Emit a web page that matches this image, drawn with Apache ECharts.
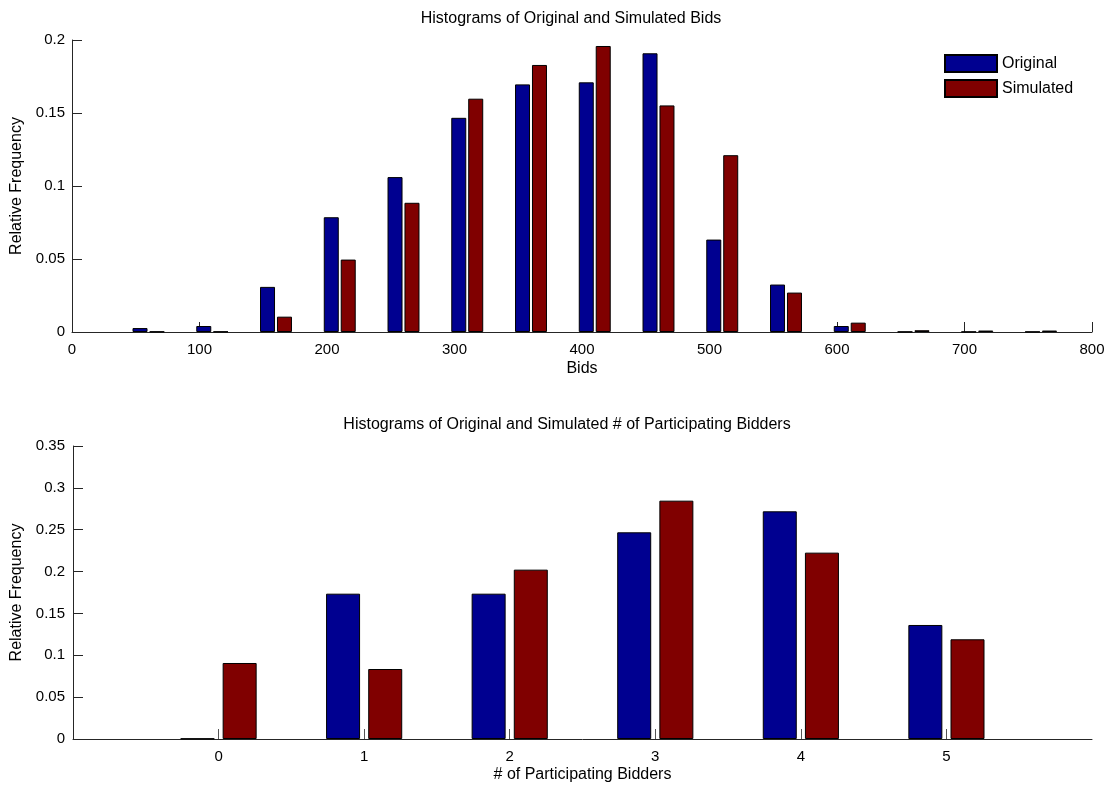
<!DOCTYPE html>
<html>
<head>
<meta charset="utf-8">
<title>Histograms of Original and Simulated Bids</title>
<script src="https://cdn.jsdelivr.net/npm/echarts@6/dist/echarts.min.js"></script>
<style>
  html, body { margin: 0; padding: 0; background: #fff; }
  #chart { width: 1112px; height: 792px; }
</style>
</head>
<body>
<div id="chart"></div>
<script>
// Bid histogram: bin centres and relative frequencies
const bidBins = [60, 110, 160, 210, 260, 310, 360, 410, 460, 510, 560, 610, 660, 710, 760];
const bidOriginal = [0.0027, 0.0041, 0.0309, 0.0786, 0.1061, 0.1467, 0.1696, 0.1710, 0.1909, 0.0633, 0.0325, 0.0041, 0.0002, 0.0002, 0.0002];
const bidSimulated = [0.0003, 0.0003, 0.0105, 0.0496, 0.0885, 0.1598, 0.1829, 0.1959, 0.1552, 0.1211, 0.0270, 0.0064, 0.0012, 0.0010, 0.0010];

// Participating-bidder histogram
const bidderCounts = [0, 1, 2, 3, 4, 5];
const bidderOriginal = [0.0005, 0.1736, 0.1736, 0.2469, 0.2720, 0.1362];
const bidderSimulated = [0.0908, 0.0836, 0.2023, 0.2847, 0.2226, 0.1191];

// Axis tick values
const bidTicksX = [0, 100, 200, 300, 400, 500, 600, 700, 800];
const bidderTicksX = [0, 1, 2, 3, 4, 5];

const seriesNames = ['Original', 'Simulated'];
const BLUE = '#000090';
const RED = '#800000';
const FONT = 'Liberation Sans, Arial, sans-serif';

const pairs = (xs, ys) => xs.map((x, i) => [x, ys[i]]);

const axisLine = { show: true, onZero: false, lineStyle: { color: '#262626', width: 1 } };
const tickStyle = { color: '#262626', width: 1 };
const labelStyle = { color: '#000', fontSize: 15, fontFamily: FONT };
const nameStyle = { color: '#000', fontSize: 16, fontFamily: FONT };
const titleStyle = { fontSize: 16, fontWeight: 'normal', color: '#000', fontFamily: FONT };

const chart = echarts.init(document.getElementById('chart'), null, { renderer: 'canvas' });

chart.setOption({
  animation: false,
  backgroundColor: '#fff',
  title: [
    {
      text: 'Histograms of Original and Simulated Bids',
      left: 571, top: 11, textAlign: 'center', padding: 0,
      textStyle: titleStyle
    },
    {
      text: 'Histograms of Original and Simulated # of Participating Bidders',
      left: 567, top: 417, textAlign: 'center', padding: 0,
      textStyle: titleStyle
    }
  ],
  legend: {
    data: seriesNames,
    orient: 'vertical',
    left: 944, top: 54,
    itemWidth: 52, itemHeight: 17, itemGap: 6,
    padding: 0,
    icon: 'rect',
    textStyle: { fontSize: 16, color: '#000', fontFamily: FONT }
  },
  grid: [
    { left: 72, right: 20, top: 40, height: 292 },
    { left: 73, right: 20, top: 446, height: 293 }
  ],
  xAxis: [
    {
      gridIndex: 0, type: 'value', min: 0, max: 800, interval: 100,
      name: 'Bids', nameLocation: 'middle', nameGap: 29, nameTextStyle: nameStyle,
      axisLine: axisLine,
      axisTick: { show: true, inside: true, length: 10, lineStyle: tickStyle, customValues: bidTicksX },
      axisLabel: Object.assign({ margin: 10, customValues: bidTicksX }, labelStyle),
      splitLine: { show: false }
    },
    {
      gridIndex: 1, type: 'value', min: -1, max: 6, interval: 1,
      name: '# of Participating Bidders', nameLocation: 'middle', nameGap: 28, nameTextStyle: nameStyle,
      axisLine: axisLine,
      axisTick: { show: true, inside: true, length: 10, lineStyle: { color: '#555', width: 1 }, customValues: bidderTicksX },
      axisLabel: Object.assign({ margin: 10, customValues: bidderTicksX }, labelStyle),
      splitLine: { show: false }
    }
  ],
  yAxis: [
    {
      gridIndex: 0, type: 'value', min: 0, max: 0.2, interval: 0.05,
      name: 'Relative Frequency', nameLocation: 'middle', nameGap: 45, nameTextStyle: nameStyle,
      axisLine: axisLine,
      axisTick: { show: true, inside: true, length: 10, lineStyle: tickStyle },
      axisLabel: Object.assign({ margin: 7 }, labelStyle),
      splitLine: { show: false }
    },
    {
      gridIndex: 1, type: 'value', min: 0, max: 0.35, interval: 0.05,
      name: 'Relative Frequency', nameLocation: 'middle', nameGap: 46, nameTextStyle: nameStyle,
      axisLine: axisLine,
      axisTick: { show: true, inside: true, length: 10, lineStyle: tickStyle },
      axisLabel: Object.assign({ margin: 8 }, labelStyle),
      splitLine: { show: false }
    }
  ],
  series: [
    {
      name: 'Original', type: 'bar', xAxisIndex: 0, yAxisIndex: 0,
      data: pairs(bidBins, bidOriginal),
      barWidth: 15, barGap: '13%',
      itemStyle: { color: BLUE, borderColor: '#000', borderWidth: 1 }
    },
    {
      name: 'Simulated', type: 'bar', xAxisIndex: 0, yAxisIndex: 0,
      data: pairs(bidBins, bidSimulated),
      barWidth: 15, barGap: '13%',
      itemStyle: { color: RED, borderColor: '#000', borderWidth: 1 }
    },
    {
      name: 'Original', type: 'bar', xAxisIndex: 1, yAxisIndex: 1,
      data: pairs(bidderCounts, bidderOriginal),
      barWidth: 34, barGap: '24%',
      itemStyle: { color: BLUE, borderColor: '#000', borderWidth: 1 }
    },
    {
      name: 'Simulated', type: 'bar', xAxisIndex: 1, yAxisIndex: 1,
      data: pairs(bidderCounts, bidderSimulated),
      barWidth: 34, barGap: '24%',
      itemStyle: { color: RED, borderColor: '#000', borderWidth: 1 }
    }
  ]
});
</script>
</body>
</html>
